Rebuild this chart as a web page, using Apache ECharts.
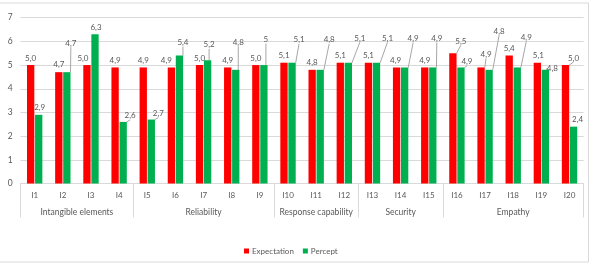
<!DOCTYPE html>
<html>
<head>
<meta charset="utf-8">
<script src="https://cdn.jsdelivr.net/npm/echarts@6/dist/echarts.min.js"></script>
<style>html,body{margin:0;padding:0;background:#fff}#c{width:595px;height:267px}</style>
</head>
<body>
<div id="c"></div>
<script>
// ---- data ----
const categories = ['I1','I2','I3','I4','I5','I6','I7','I8','I9','I10','I11','I12','I13','I14','I15','I16','I17','I18','I19','I20'];
const groups = ['Intangible elements','Reliability','Response capability','Security','Empathy'];
const groupSizes = [4,5,3,3,5];
const seriesNames = ['Expectation','Percept'];
const expectation = [5.0,4.7,5.0,4.9,4.9,4.9,5.0,4.9,5.0,5.1,4.8,5.1,5.1,4.9,4.9,5.5,4.9,5.4,5.1,5.0];
const percept     = [2.9,4.7,6.3,2.6,2.7,5.4,5.2,4.8,5.0,5.1,4.8,5.1,5.1,4.9,4.9,4.9,4.8,4.9,4.8,2.4];
const expLabels = ['5,0','4,7','5,0','4,9','4,9','4,9','5,0','4,9','5,0','5,1','4,8','5,1','5,1','4,9','4,9','5,5','4,9','5,4','5,1','5,0'];
const perLabels = ['2,9','4,7','6,3','2,6','2,7','5,4','5,2','4,8','5','5,1','4,8','5,1','5,1','4,9','4,9','4,9','4,8','4,9','4,8','2,4'];
const yTicks = [0,1,2,3,4,5,6,7];

// ---- label offsets (layout only) ----
const expDx = [0,0,-4,0,0,-5,0,0,0,0,0,0,0,-1,0,8,5,0,1,8];
const expDy = [0,-1,0,0,0,0,0,0,0,0,0,0,0,0,0,-5,-6,0,0,0];
const perDx = [1,4,1,7,7,3.5,1.5,2.5,2,7,9,11.5,11,8.5,4,6,10,9,7,4];
const perDy = [0,-22,0,1,1,-6,-8.5,-20.6,-18.5,-16,-23,-17.5,-17.5,-22,-22,1.4,-31.6,-23,5.4,0];

// build 41-slot group axis
const groupSlots = new Array(41).fill('');
const boundaries = [0];
let acc = 0;
groups.forEach((g, i) => {
  const start = acc; acc += groupSizes[i];
  boundaries.push(acc * 2);
  groupSlots[start + acc] = g; // center in half-category units
});
const labelSlots = new Set();
groupSlots.forEach((v, i) => { if (v) labelSlots.add(i); });
const boundarySet = new Set(boundaries);

const txt = '#595959';
const font = 'Lato';

function mkData(vals, dx, dy) {
  return vals.map((v, i) => ({
    value: v,
    labelLine: { show: Math.hypot(dx[i], dy[i]) > 5 }
  }));
}

const chart = echarts.init(document.getElementById('c'), null, { renderer: 'canvas' });
chart.setOption({
  animation: false,
  textStyle: { fontFamily: font },
  grid: { left: 20.6, right: 11.4, top: 17.7, bottom: 83.5 },
  graphic: [{
    type: 'rect', silent: true, z: -10,
    shape: { x: -1, y: 3, width: 589.5, height: 259 },
    style: { fill: 'none', stroke: '#d9d9d9', lineWidth: 1 }
  }],
  legend: {
    bottom: 7, left: 239,
    icon: 'rect', itemWidth: 5, itemHeight: 5, itemGap: 9,
    textStyle: { color: txt, fontSize: 8, fontFamily: font, padding: [0, 0, 0, -2] },
    data: seriesNames
  },
  xAxis: [{
    type: 'category', data: categories, gridIndex: 0, position: 'bottom',
    axisLine: { show: true, lineStyle: { color: '#d9d9d9', width: 1 } },
    axisTick: { show: false },
    axisLabel: { color: txt, fontSize: 8, margin: 8, fontFamily: font }
  }, {
    type: 'category', data: groupSlots, gridIndex: 0, position: 'bottom',
    boundaryGap: false,
    axisLine: { show: false },
    axisTick: { show: true, length: 34, interval: (i) => boundarySet.has(i), lineStyle: { color: '#d9d9d9', width: 1 } },
    axisLabel: { show: true, color: txt, fontSize: 8.5, margin: 24, fontFamily: font, interval: (i) => labelSlots.has(i) },
    splitLine: { show: false }
  }],
  yAxis: {
    type: 'value', min: yTicks[0], max: yTicks[yTicks.length - 1], interval: 1,
    axisLine: { show: false }, axisTick: { show: false },
    axisLabel: { color: txt, fontSize: 8.5, margin: 8, fontFamily: font },
    splitLine: { lineStyle: { color: '#d9d9d9', width: 1 } }
  },
  series: [{
    name: seriesNames[0], type: 'bar', xAxisIndex: 0,
    data: mkData(expectation, expDx, expDy),
    itemStyle: { color: '#ff0000' },
    barWidth: '26%', barGap: '10%',
    label: { show: true, position: 'top', distance: 3, color: txt, fontSize: 8, fontFamily: font,
      formatter: (p) => expLabels[p.dataIndex] },
    labelLine: { lineStyle: { color: '#a6a6a6', width: 1 } },
    labelLayout: (p) => ({ dx: expDx[p.dataIndex], dy: expDy[p.dataIndex] })
  }, {
    name: seriesNames[1], type: 'bar', xAxisIndex: 0,
    data: mkData(percept, perDx, perDy),
    itemStyle: { color: '#00b050' },
    barWidth: '26%', barGap: '10%',
    label: { show: true, position: 'top', distance: 3, color: txt, fontSize: 8, fontFamily: font,
      formatter: (p) => perLabels[p.dataIndex] },
    labelLine: { lineStyle: { color: '#a6a6a6', width: 1 } },
    labelLayout: (p) => ({ dx: perDx[p.dataIndex], dy: perDy[p.dataIndex] })
  }]
});
</script>
</body>
</html>
